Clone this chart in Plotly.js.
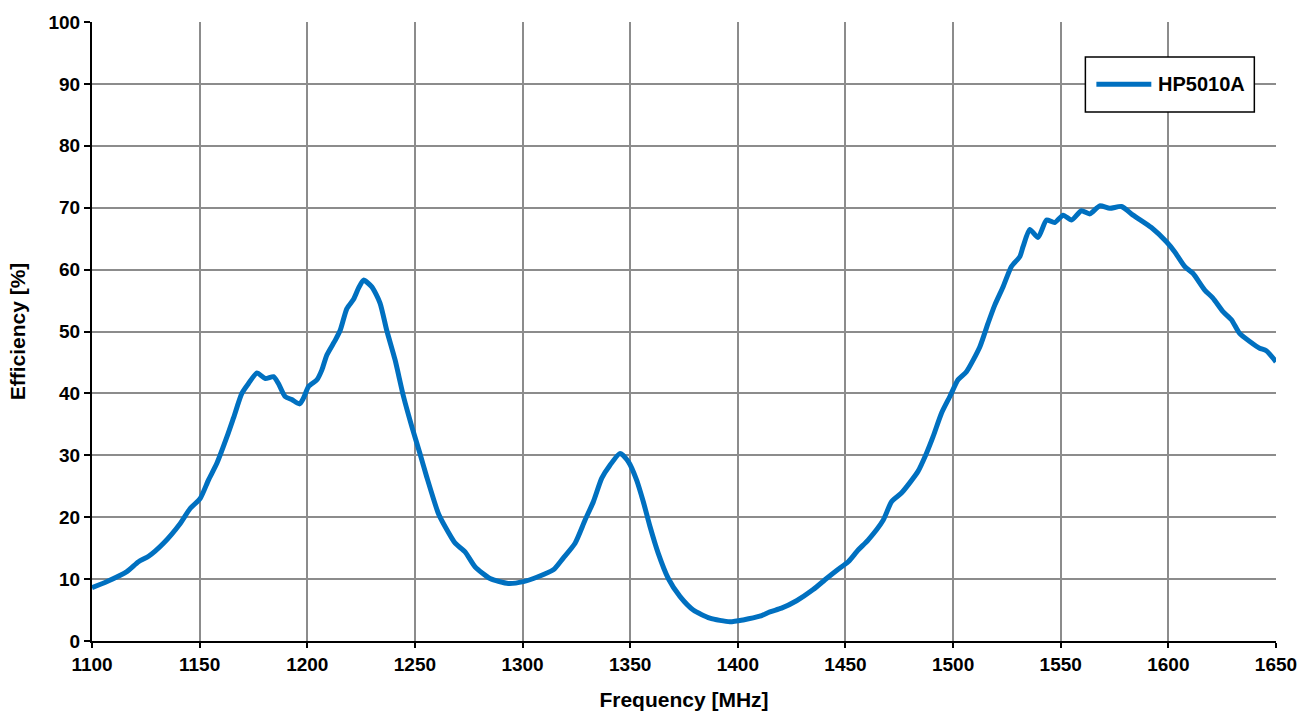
<!DOCTYPE html>
<html>
<head>
<meta charset="utf-8">
<script src="https://cdn.plot.ly/plotly-3.0.1.min.js"></script>
<style>html,body{margin:0;padding:0;background:#fff;}#chart{width:1314px;height:715px;}</style>
</head>
<body>
<div id="chart"></div>
<script>
const seriesName = "HP5010A";
const freq = [1100,1107,1116.2,1121.6,1126.3,1133.2,1141,1145.6,1150.3,1154.1,1158,1162.7,1165.7,1169.6,1172.7,1176.6,1180.5,1184.3,1186.6,1189.7,1192.8,1196.4,1198.2,1200.6,1204.5,1206.8,1209.1,1213,1215.3,1218.4,1221.5,1223.8,1226.1,1230,1233.8,1236.9,1240.8,1244.7,1248.6,1252.4,1255.5,1260.9,1264,1268.7,1273.3,1277.9,1284.9,1293.4,1300.4,1306.6,1314.3,1318.9,1324.4,1329,1332.9,1336.8,1340.6,1345.3,1349.1,1353,1356.1,1359.2,1363,1367.7,1373.1,1379.3,1387,1396.3,1402.5,1410.2,1414.9,1420.3,1427.3,1435,1441.2,1445.9,1451.3,1455.9,1460.5,1467.5,1471.4,1476,1483.7,1487.6,1490.7,1494.6,1498.5,1502.3,1506.2,1512.4,1516.2,1519.4,1523.2,1527.1,1531,1532.5,1535.6,1539.5,1543.4,1547.2,1551.1,1555,1559.6,1563.5,1568.1,1572.8,1578.2,1583.6,1592.1,1599.1,1602.9,1607.6,1611.4,1616.9,1620.7,1625.4,1629.3,1633.1,1637.8,1642.4,1645.5,1650];
const efficiency = [8.6,9.6,11.2,12.8,13.7,15.8,19.0,21.4,23.05,26.0,28.7,33.0,36.0,40.0,41.6,43.3,42.4,42.7,41.6,39.5,39.0,38.3,39.2,41.1,42.2,43.8,46.2,48.6,50.2,53.7,55.2,57.0,58.3,57.2,54.6,50.2,45.4,39.5,34.6,30.2,26.5,20.6,18.5,15.8,14.4,12.0,10.1,9.3,9.6,10.3,11.5,13.4,15.8,19.5,22.5,26.3,28.4,30.3,29.0,26.0,22.5,18.5,14.2,10.1,7.2,5.0,3.7,3.1,3.4,4.0,4.7,5.3,6.5,8.3,10.1,11.4,12.8,14.7,16.3,19.5,22.5,23.9,27.4,30.3,33.0,36.8,39.5,42.2,43.5,47.5,51.3,54.3,57.2,60.5,62.1,63.7,66.5,65.2,68.0,67.6,68.8,68.0,69.5,69.0,70.3,69.9,70.2,68.8,66.8,64.5,62.9,60.5,59.4,56.7,55.4,53.2,51.9,49.7,48.4,47.3,46.9,45.1];
const xTicks = [1100,1150,1200,1250,1300,1350,1400,1450,1500,1550,1600,1650];
const yTicks = [0,10,20,30,40,50,60,70,80,90,100];

const fam = "Liberation Sans, Arial, sans-serif";
const lineColor = "#0070C0";
const trace = {
  x: freq, y: efficiency, type: "scatter", mode: "lines", name: seriesName, showlegend: false,
  line: {color: lineColor, width: 5, shape: "spline", smoothing: 0.6}
};
const layout = {
  width: 1314, height: 715,
  margin: {l: 92, r: 38, t: 22, b: 74},
  paper_bgcolor: "#fff", plot_bgcolor: "#fff",
  font: {family: fam, color: "#000"},
  showlegend: false,
  xaxis: {
    range: [1100, 1650], tickvals: xTicks, ticktext: xTicks.map(v => "<b>" + v + "</b>"),
    showgrid: true, gridcolor: "#8c8c8c", gridwidth: 2,
    showline: true, linecolor: "#000", linewidth: 2,
    ticks: "outside", ticklen: 5, tickcolor: "#000", tickwidth: 2,
    tickfont: {family: fam, size: 19, color: "#000"},
    zeroline: false, automargin: false,
    title: {text: "<b>Frequency [MHz]</b>", font: {family: fam, size: 21, color: "#000"}, standoff: 19}
  },
  yaxis: {
    range: [0, 100], tickvals: yTicks, ticktext: yTicks.map(v => "<b>" + v + "</b>"),
    showgrid: true, gridcolor: "#8c8c8c", gridwidth: 2,
    showline: true, linecolor: "#000", linewidth: 2,
    ticks: "outside", ticklen: 6, tickcolor: "#000", tickwidth: 2,
    tickfont: {family: fam, size: 19, color: "#000"},
    zeroline: false, automargin: false,
    title: {text: "<b>Efficiency [%]</b>", font: {family: fam, size: 21, color: "#000"}, standoff: 17}
  },
  shapes: [
    {type: "rect", xref: "paper", yref: "paper", x0: 0.839, x1: 0.9817, y0: 0.8546, y1: 0.9435,
     line: {color: "#000", width: 1.5}, fillcolor: "#fff", layer: "above"},
    {type: "line", xref: "paper", yref: "paper", x0: 0.8483, x1: 0.8947, y0: 0.8994, y1: 0.8994,
     line: {color: lineColor, width: 5}, layer: "above"}
  ],
  annotations: [
    {xref: "paper", yref: "paper", x: 0.8985, y: 0.8994, xanchor: "left", yanchor: "middle",
     text: "<b>" + seriesName + "</b>", showarrow: false, font: {family: fam, size: 20, color: "#000"}}
  ]
};
Plotly.newPlot("chart", [trace], layout, {displayModeBar: false, staticPlot: true});
</script>
</body>
</html>
